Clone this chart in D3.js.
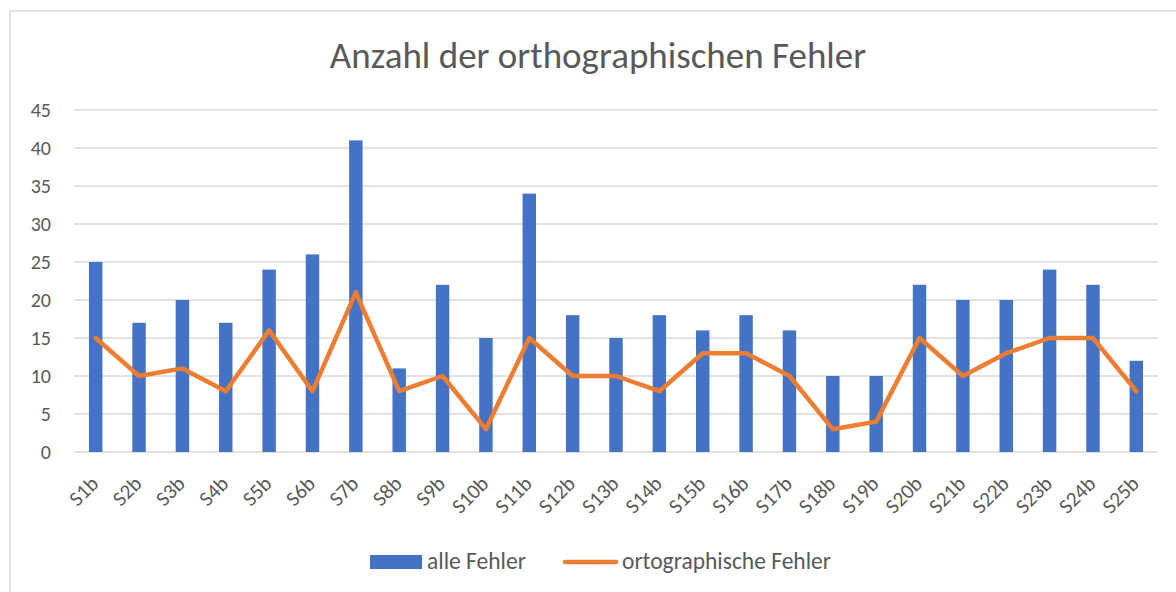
<!DOCTYPE html>
<html><head><meta charset="utf-8">
<script src="https://cdn.jsdelivr.net/npm/d3@7"></script>
<style>
html,body{margin:0;padding:0;background:#fff;}
svg{display:block;font-family:Carlito, Calibri, Lato, "Open Sans", sans-serif;}
</style></head>
<body>
<svg id="chart" width="1176" height="592"></svg>
<script>
const categories = ["S1b","S2b","S3b","S4b","S5b","S6b","S7b","S8b","S9b","S10b","S11b","S12b","S13b","S14b","S15b","S16b","S17b","S18b","S19b","S20b","S21b","S22b","S23b","S24b","S25b"];
const alleFehler = [25,17,20,17,24,26,41,11,22,15,34,18,15,18,16,18,16,10,10,22,20,20,24,22,12];
const ortoFehler = [15,10,11,8,16,8,21,8,10,3,15,10,10,8,13,13,10,3,4,15,10,13,15,15,8];
const yTicks = [0,5,10,15,20,25,30,35,40,45];
const seriesNames = ["alle Fehler","ortographische Fehler"];
const titleText = "Anzahl der orthographischen Fehler";

const svg = d3.select("#chart");
const textColor = "#595959";
const ff = "Carlito, Calibri, Lato, 'Open Sans', sans-serif";

// chart area border
svg.append("rect").attr("x",10).attr("y",11).attr("width",1180).attr("height",600)
  .attr("fill","#fff").attr("stroke","#d9d9d9").attr("stroke-width",1.5);

const pLeft = 74, pRight = 1158, pTop = 110, pBottom = 452;
const x = d3.scaleBand().domain(categories).range([pLeft,pRight]).paddingInner(0.69).paddingOuter(0.345);
const xc = d3.scaleBand().domain(categories).range([pLeft,pRight]);
const y = d3.scaleLinear().domain([0,45]).range([pBottom,pTop]);

// gridlines
svg.append("g").selectAll("line").data(yTicks).join("line")
  .attr("x1",pLeft).attr("x2",pRight)
  .attr("y1",d=>y(d)).attr("y2",d=>y(d))
  .attr("stroke","#d9d9d9").attr("stroke-width",1.3);

// y axis labels
const yAxis = d3.axisLeft(y).tickValues(yTicks).tickSize(0).tickPadding(0);
const gy = svg.append("g").attr("transform",`translate(${51},0)`).call(yAxis);
gy.select(".domain").remove();
gy.selectAll("text").attr("fill",textColor).style("font-size","20px").style("font-family",ff);

// bars
svg.append("g").selectAll("rect").data(categories).join("rect")
  .attr("x",d=>x(d)).attr("width",x.bandwidth())
  .attr("y",(d,i)=>y(alleFehler[i])).attr("height",(d,i)=>y(0)-y(alleFehler[i]))
  .attr("fill","#4472c4");

// line
const line = d3.line().x((d,i)=>xc(categories[i])+xc.bandwidth()/2).y(d=>y(d));
svg.append("path").datum(ortoFehler).attr("d",line)
  .attr("fill","none").attr("stroke","#ed7d31").attr("stroke-width",4.5)
  .attr("stroke-linejoin","round").attr("stroke-linecap","round");

// x labels
const xAxis = d3.axisBottom(xc).tickSize(0).tickPadding(0);
const gx = svg.append("g").attr("transform",`translate(0,${pBottom})`).call(xAxis);
gx.select(".domain").remove();
gx.selectAll("text").attr("fill",textColor).style("font-size","21px").style("font-family",ff)
  .attr("text-anchor","end").attr("dy","0")
  .attr("transform","translate(4,33) rotate(-45)");

// title
svg.append("text").attr("x",598).attr("y",68).attr("text-anchor","middle")
  .attr("fill",textColor).style("font-size","37px").text(titleText);

// legend
const lg = svg.append("g");
lg.append("rect").attr("x",370).attr("y",555).attr("width",52).attr("height",14).attr("fill","#4472c4");
lg.append("text").attr("x",427).attr("y",569).attr("fill",textColor).style("font-size","23.5px").text(seriesNames[0]);
lg.append("line").attr("x1",565).attr("x2",616).attr("y1",562).attr("y2",562)
  .attr("stroke","#ed7d31").attr("stroke-width",4.5).attr("stroke-linecap","round");
lg.append("text").attr("x",622).attr("y",569).attr("fill",textColor).style("font-size","23.5px").text(seriesNames[1]);
</script>
</body></html>
